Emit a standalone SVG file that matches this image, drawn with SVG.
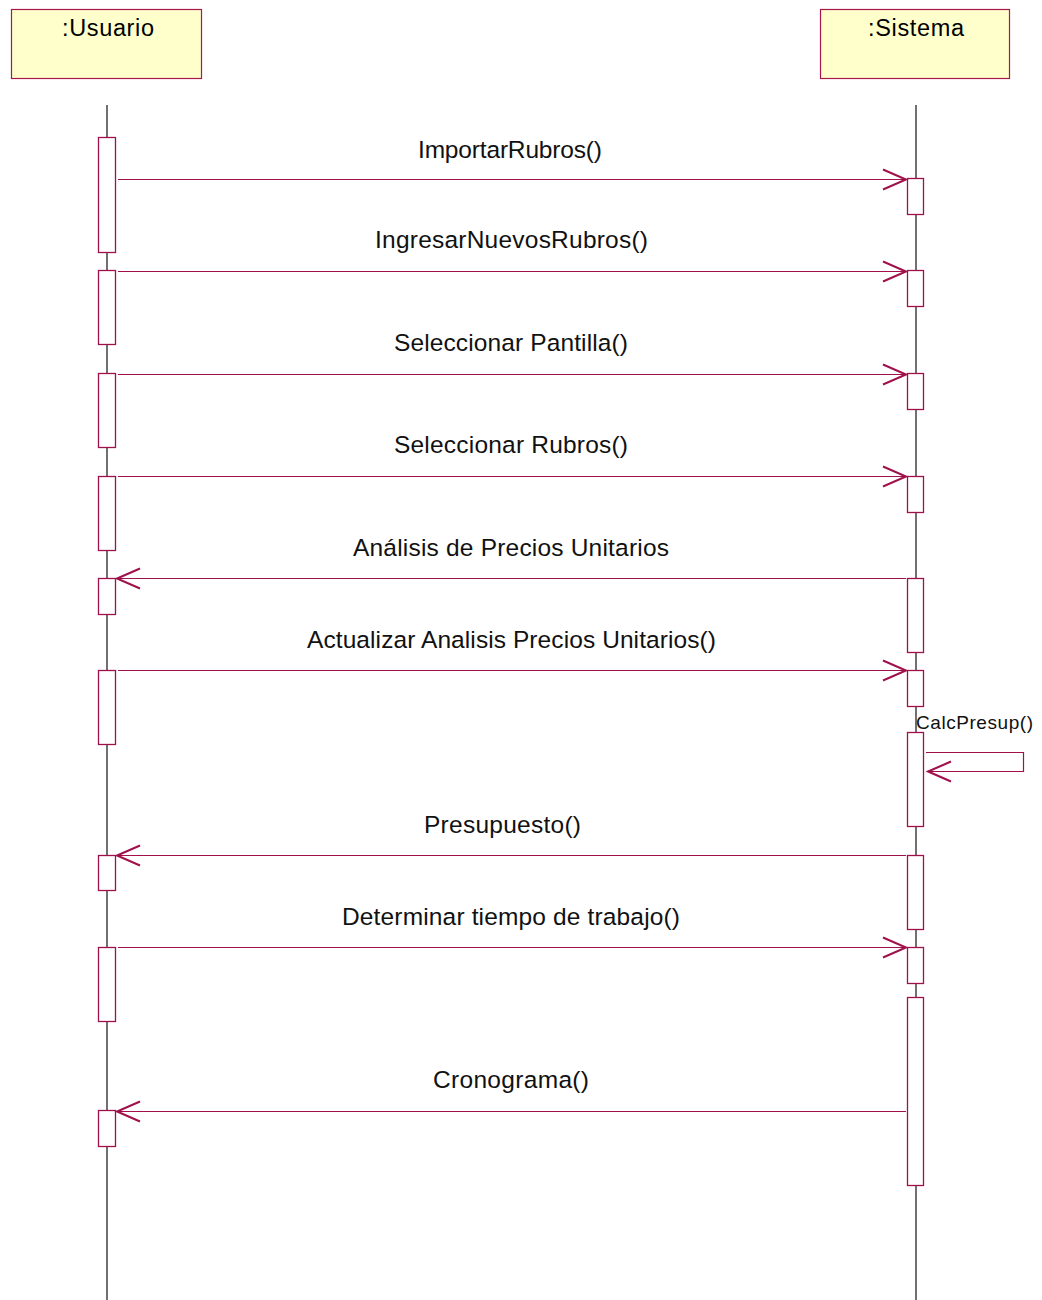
<svg xmlns="http://www.w3.org/2000/svg" width="1042" height="1300" viewBox="0 0 1042 1300">
  <defs>
    <style>
      .obj { fill: #FFFFCC; stroke: #A8174C; stroke-width: 1.2; }
      .life { stroke: #111111; stroke-width: 1.2; fill: none; }
      .act { fill: #FFFFFF; stroke: #A0104A; stroke-width: 1.3; }
      .msg { stroke: #A0104A; stroke-width: 1.2; fill: none; }
      .hdr { font-family: "Liberation Sans", Arial, sans-serif; font-size: 23.5px; fill: #000; text-anchor: middle; }
      .lbl { font-family: "Liberation Sans", Arial, sans-serif; font-size: 24.5px; fill: #111; }
      .self { font-family: "Liberation Sans", Arial, sans-serif; font-size: 19px; fill: #111; }
    </style>
    <marker id="open" markerUnits="userSpaceOnUse" markerWidth="30" markerHeight="26" viewBox="-25 -13 30 26" refX="0" refY="0" orient="auto">
      <path d="M-23,-10 L0,0 L-23,10" fill="none" stroke="#A0104A" stroke-width="2"/>
    </marker>
  </defs>

  <!-- Object: :Usuario -->
  <g id="usuario">
    <rect class="obj" x="11.5" y="9.5" width="190" height="69"/>
    <text class="hdr" x="108" y="36" textLength="92" lengthAdjust="spacing">:Usuario</text>
    <line class="life" x1="107" y1="105" x2="107" y2="1300"/>
    <rect class="act" x="98.5" y="137.5" width="17" height="115"/>
    <rect class="act" x="98.5" y="270.5" width="17" height="74"/>
    <rect class="act" x="98.5" y="373.5" width="17" height="74"/>
    <rect class="act" x="98.5" y="476.5" width="17" height="74"/>
    <rect class="act" x="98.5" y="578.5" width="17" height="36"/>
    <rect class="act" x="98.5" y="670.5" width="17" height="74"/>
    <rect class="act" x="98.5" y="855.5" width="17" height="35"/>
    <rect class="act" x="98.5" y="947.5" width="17" height="74"/>
    <rect class="act" x="98.5" y="1110.5" width="17" height="36"/>
  </g>

  <!-- Object: :Sistema -->
  <g id="sistema">
    <rect class="obj" x="820.5" y="9.5" width="189" height="69"/>
    <text class="hdr" x="916" y="36" textLength="96" lengthAdjust="spacing">:Sistema</text>
    <line class="life" x1="916" y1="105" x2="916" y2="1300"/>
    <rect class="act" x="907.5" y="178.5" width="16" height="36"/>
    <rect class="act" x="907.5" y="270.5" width="16" height="36"/>
    <rect class="act" x="907.5" y="373.5" width="16" height="36"/>
    <rect class="act" x="907.5" y="476.5" width="16" height="36"/>
    <rect class="act" x="907.5" y="578.5" width="16" height="74"/>
    <rect class="act" x="907.5" y="670.5" width="16" height="36"/>
    <rect class="act" x="907.5" y="732.5" width="16" height="94"/>
    <rect class="act" x="907.5" y="855.5" width="16" height="74"/>
    <rect class="act" x="907.5" y="947.5" width="16" height="36"/>
    <rect class="act" x="907.5" y="997.5" width="16" height="188"/>
  </g>

  <!-- Messages -->
  <g id="messages">
    <line class="msg" x1="118" y1="179.5" x2="906" y2="179.5" marker-end="url(#open)"/>
    <text class="lbl" x="418" y="158" textLength="184" lengthAdjust="spacing">ImportarRubros()</text>

    <line class="msg" x1="118" y1="271.5" x2="906" y2="271.5" marker-end="url(#open)"/>
    <text class="lbl" x="375" y="248" textLength="273" lengthAdjust="spacing">IngresarNuevosRubros()</text>

    <line class="msg" x1="118" y1="374.5" x2="906" y2="374.5" marker-end="url(#open)"/>
    <text class="lbl" x="394" y="351" textLength="234" lengthAdjust="spacing">Seleccionar Pantilla()</text>

    <line class="msg" x1="118" y1="476.5" x2="906" y2="476.5" marker-end="url(#open)"/>
    <text class="lbl" x="394" y="453" textLength="234" lengthAdjust="spacing">Seleccionar Rubros()</text>

    <line class="msg" x1="906" y1="578.5" x2="117" y2="578.5" marker-end="url(#open)"/>
    <text class="lbl" x="353" y="556" textLength="316" lengthAdjust="spacing">Análisis de Precios Unitarios</text>

    <line class="msg" x1="118" y1="670.5" x2="906" y2="670.5" marker-end="url(#open)"/>
    <text class="lbl" x="307" y="648" textLength="409" lengthAdjust="spacing">Actualizar Analisis Precios Unitarios()</text>

    <path class="msg" d="M926,752.5 H1023.5 V771.5 H928" marker-end="url(#open)"/>
    <text class="self" x="916" y="729" textLength="117" lengthAdjust="spacing">CalcPresup()</text>

    <line class="msg" x1="906" y1="855.5" x2="117" y2="855.5" marker-end="url(#open)"/>
    <text class="lbl" x="424" y="833" textLength="157" lengthAdjust="spacing">Presupuesto()</text>

    <line class="msg" x1="118" y1="947.5" x2="906" y2="947.5" marker-end="url(#open)"/>
    <text class="lbl" x="342" y="925" textLength="338" lengthAdjust="spacing">Determinar tiempo de trabajo()</text>

    <line class="msg" x1="906" y1="1111.5" x2="117" y2="1111.5" marker-end="url(#open)"/>
    <text class="lbl" x="433" y="1088" textLength="156" lengthAdjust="spacing">Cronograma()</text>
  </g>
</svg>
